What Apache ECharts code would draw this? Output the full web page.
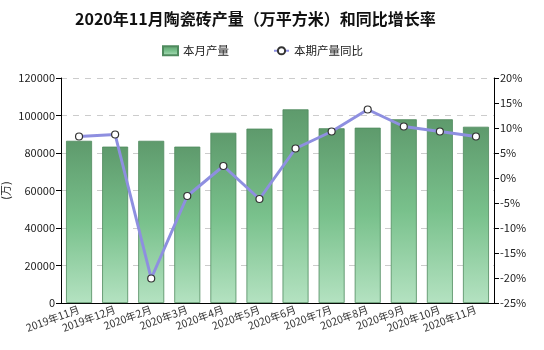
<!DOCTYPE html>
<html><head><meta charset="utf-8">
<script src="https://cdn.jsdelivr.net/npm/echarts@6/dist/echarts.min.js"></script>
<style>html,body{margin:0;padding:0;background:#fff}#c{width:544px;height:350px}</style>
</head><body><div id="c"></div>
<script>
const categories = ['2019年11月','2019年12月','2020年2月','2020年3月','2020年4月','2020年5月','2020年6月','2020年7月','2020年8月','2020年9月','2020年10月','2020年11月'];
const production = [86500, 83400, 86500, 83400, 90800, 93000, 103300, 93200, 93500, 98000, 98000, 94000];
const yoy = [8.3, 8.7, -20.1, -3.6, 2.4, -4.2, 5.9, 9.3, 13.7, 10.3, 9.3, 8.3];
const leftTicks = [0, 20000, 40000, 60000, 80000, 100000, 120000];
const rightTicks = [-25, -20, -15, -10, -5, 0, 5, 10, 15, 20];

const font = '"Microsoft YaHei","Noto Sans CJK SC",sans-serif';
const chart = echarts.init(document.getElementById('c'));
chart.setOption({
  animation: false,
  textStyle: {fontFamily: font},
  title: {text: '2020年11月陶瓷砖产量（万平方米）和同比增长率', left: 70, top: 6,
    textStyle: {fontSize: 16, fontWeight: 'bold', color: '#111', fontFamily: font}},
  legend: {top: 40, left: 157, itemGap: 44, itemWidth: 15, itemHeight: 9,
    textStyle: {fontSize: 11.5, color: '#222'},
    data: [{name: '本月产量', icon: 'rect'}, {name: '本期产量同比'}]},
  grid: {left: 61, right: 50, top: 78, bottom: 47, outerBoundsMode: 'none', containLabel: false},
  xAxis: {type: 'category', data: categories,
    axisLine: {lineStyle: {color: '#000'}},
    axisTick: {alignWithLabel: true, lineStyle: {color: '#000'}},
    axisLabel: {rotate: 20, fontSize: 10.5, color: '#333', interval: 0, margin: 6}},
  yAxis: [{type: 'value', min: leftTicks[0], max: leftTicks[leftTicks.length-1], interval: 20000,
    name: '(万)', nameLocation: 'middle', nameGap: 50, nameRotate: 90, nameMoveOverlap: false,
    nameTextStyle: {fontSize: 11, color: '#222'},
    axisLine: {show: true, lineStyle: {color: '#000'}},
    axisTick: {show: true, lineStyle: {color: '#000'}},
    axisLabel: {fontSize: 11, color: '#222', margin: 6, formatter: v => String(v)},
    splitLine: {lineStyle: {color: '#ccc', type: [6, 6]}}},
   {type: 'value', min: rightTicks[0], max: rightTicks[rightTicks.length-1], interval: 5,
    axisLine: {show: true, lineStyle: {color: '#000'}},
    axisTick: {show: true, lineStyle: {color: '#000'}},
    axisLabel: {fontSize: 11, color: '#222', formatter: '{value}%', margin: 6},
    splitLine: {show: false}}],
  series: [{name: '本月产量', type: 'bar', data: production, barWidth: '72%',
    itemStyle: {color: new echarts.graphic.LinearGradient(0,0,0,1,[{offset:0,color:'#5e9a6c'},{offset:0.5,color:'#79c18c'},{offset:1,color:'#b4e2c1'}]),
      borderColor: '#4f8a5e', borderWidth: 0.8}},
   {name: '本期产量同比', type: 'line', yAxisIndex: 1, data: yoy,
    lineStyle: {color: '#8e8fe0', width: 3},
    itemStyle: {color: '#fff', borderColor: '#333', borderWidth: 1.2},
    symbol: 'circle', symbolSize: 7, z: 5}]
});
</script></body></html>
